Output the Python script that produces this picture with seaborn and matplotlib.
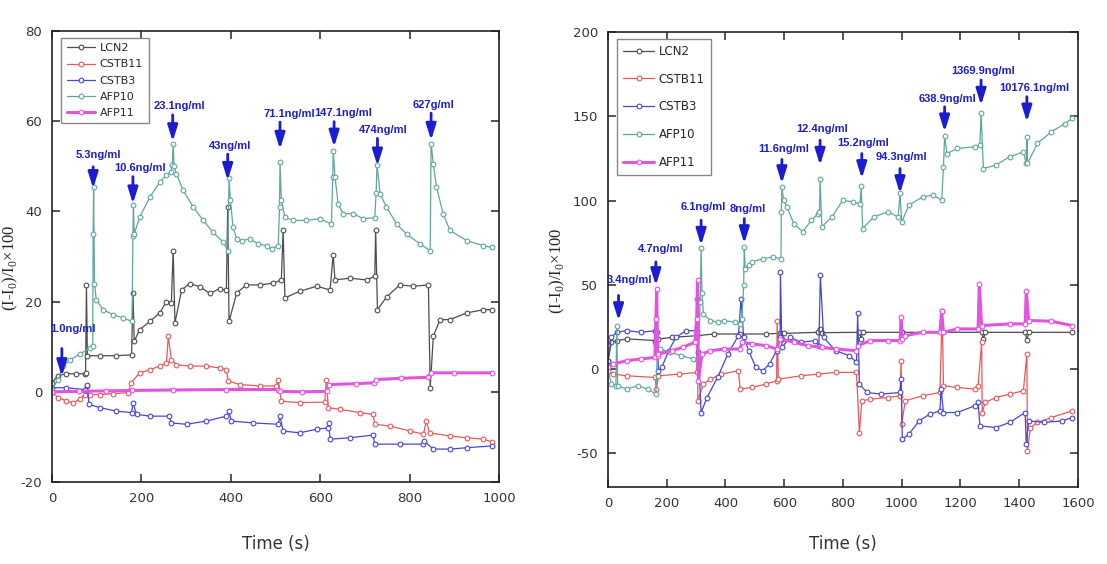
import matplotlib
matplotlib.use("Agg")
import matplotlib.pyplot as plt
import seaborn as sns

# ---------------- data ----------------
NAMES = ["LCN2", "CSTB11", "CSTB3", "AFP10", "AFP11"]
COLORS = ["#4d4d4d", "#e8585a", "#4646d6", "#5fa79d", "#e452e4"]
ARROW_BLUE = "#1c1cd2"

# left panel
L_LCN2_T = [0, 13, 32, 54, 73, 75, 77, 79, 107, 144, 178, 181, 184, 196, 219, 241, 256, 267, 271, 275,
            290, 308, 331, 353, 375, 390, 393, 396, 413, 435, 465, 495, 513, 517, 521, 554, 592, 622, 629,
            633, 666, 704, 722, 724, 728, 749, 778, 808, 842, 846, 853, 868, 890, 928, 965, 984]
L_LCN2_V = [2, 3.6, 4, 4, 4, 4.2, 23.7, 8, 8, 8, 8.2, 22, 11.2, 13.8, 15.6, 17.5, 20, 19.7, 31.3, 15.3,
            22.6, 24, 23.3, 21.8, 22.9, 22.5, 41, 15.6, 21.9, 23.7, 23.7, 24.1, 24.8, 35.9, 20.8, 22.3, 23.4, 22.6, 30.4,
            24.8, 25.2, 24.8, 25.6, 35.8, 18.2, 21.1, 23.7, 23.4, 23.7, 0.9, 12.3, 16, 16, 17.5, 18.2, 18.2]

L_CSTB11_T = [0, 13, 32, 47, 62, 73, 78, 84, 107, 137, 170, 177, 196, 219, 241, 256, 260, 267, 278, 308,
              345, 375, 390, 394, 420, 465, 502, 506, 513, 554, 610, 614, 618, 644, 689, 718, 722, 756, 801,
              831, 837, 845, 890, 928, 965, 984]
L_CSTB11_V = [0, -1.3, -2, -2.4, -1.7, -0.6, 1.3, -0.6, -0.6, -0.4, -0.2, 2, 4.2, 4.9, 5.7, 6.4, 12.3, 7.1, 6, 5.7,
              5.7, 5.3, 4.9, 2.4, 1.6, 1.3, 1.3, 2.7, -2.1, -2.4, -2.3, 2.7, -3.5, -3.9, -4.6, -5, -7.2, -7.6, -8.7,
              -9.4, -6.5, -9.1, -9.8, -10.2, -10.5, -11.1]

L_CSTB3_T = [0, 32, 73, 78, 83, 107, 144, 178, 181, 189, 219, 262, 267, 301, 345, 390, 396, 401, 450, 506,
             510, 517, 554, 592, 618, 619, 622, 666, 718, 722, 778, 831, 832, 853, 890, 928, 984]
L_CSTB3_V = [0.9, 0.9, 0.5, 1.6, -2.8, -3.5, -4.3, -4.6, -2.4, -5, -5.4, -5.4, -6.9, -7.2, -6.5, -5.4, -4.3, -6.5, -6.9, -7.2,
             -5.4, -8.7, -9.1, -8.3, -8, -6.9, -10.5, -10.2, -9.6, -11.6, -11.6, -11.6, -10.9, -12.7, -12.7, -12.4, -12]

L_AFP10_T = [0, 13, 25, 40, 62, 84, 91, 92, 93, 95, 99, 114, 137, 159, 179, 181, 182, 184, 196, 219,
             241, 256, 266, 269, 271, 273, 278, 293, 316, 338, 360, 383, 393, 396, 399, 405, 413, 424, 442, 461,
             480, 491, 506, 509, 510, 513, 521, 540, 569, 599, 625, 628, 629, 633, 640, 651, 674, 696, 722, 725,
             727, 734, 748, 771, 793, 823, 846, 848, 853, 860, 875, 890, 928, 965, 984]
L_AFP10_V = [0.5, 2.7, 5.7, 7.1, 8.3, 9.7, 10.2, 35, 45.5, 24, 20.4, 18.2, 17.1, 16.4, 15.6, 34.6, 41.5, 35, 38.7, 43.2,
             46.5, 48, 48.8, 50.3, 55, 50, 48.4, 44.7, 41, 38, 35.4, 33.2, 31.3, 47.3, 42.5, 36.5, 33.9, 33.5, 33.9, 32.8,
             32.4, 31.7, 32.4, 41, 51, 42.5, 38.7, 38, 38, 38.4, 37.2, 47.7, 53.5, 47.7, 41.7, 39.5, 39.5, 38.4, 38.6, 44,
             50.3, 43.9, 41, 37.2, 35, 32.8, 31.3, 55, 50.6, 45.4, 39.5, 35.8, 33.5, 32.4, 32]

L_AFP11_T = [0, 60, 120, 180, 270, 390, 505, 510, 560, 615, 619, 680, 720, 725, 780, 840, 848, 900, 984]
L_AFP11_V = [0, 0.1, 0.2, 0.3, 0.4, 0.5, 0.5, 0.1, 0, 0.1, 1.6, 1.8, 2, 2.7, 3, 3.2, 4.2, 4.2, 4.2]

L_ARROW_T = [22, 92, 181, 270, 393, 510, 631, 728, 848]
L_ARROW_TAIL = [9.6, 49.9, 47.7, 61.4, 52.7, 59.8, 59.9, 56.2, 61.8]
L_ARROW_TIP = [3.4, 45.1, 41.7, 55.5, 46.9, 53.8, 54.3, 50.1, 55.8]
L_TEXT_T = [47, 103, 196, 286, 398, 531, 651, 741, 854]
L_TEXT_V = [13.9, 52.5, 49.7, 63.4, 54.5, 61.6, 61.8, 58.1, 63.5]
L_TEXT = ["1.0ng/ml", "5.3ng/ml", "10.6ng/ml", "23.1ng/ml", "43ng/ml", "71.1ng/ml",
          "147.1ng/ml", "474ng/ml", "627g/ml"]

# right panel
R_LCN2_T = [0, 12, 30, 65, 160, 165, 172, 219, 302, 361, 450, 538, 586, 592, 598, 716, 722, 728, 856, 862,
            867, 1000, 1142, 1272, 1278, 1284, 1420, 1426, 1432, 1580]
R_LCN2_V = [5, 15.9, 16.9, 17.9, 16.9, 15, 17.9, 18.8, 19.8, 20.8, 20.8, 20.8, 21.2, 18, 21.2, 21.8, 24, 21.6, 21.8, 18,
            21.8, 21.8, 21.8, 21.8, 17.9, 21.8, 21.8, 17, 21.8, 21.8]

R_CSTB11_T = [0, 18, 65, 160, 165, 172, 243, 302, 304, 306, 325, 349, 385, 444, 450, 491, 538, 574, 576, 580,
              657, 716, 775, 846, 856, 864, 893, 953, 994, 998, 1000, 1012, 1071, 1130, 1138, 1142, 1189, 1249, 1260, 1272,
              1274, 1284, 1320, 1367, 1414, 1426, 1428, 1438, 1462, 1509, 1580]
R_CSTB11_V = [-1, -3, -4, -5, -12, -4, -3, -2, 41.7, -18.8, -8.9, -6, -3, -1, -11.9, -10.9, -8.9, -6.9, 28.8, -6,
              -4, -3, -2, -2, -37.7, -18.8, -17.9, -16.9, -15.9, 5, -32.7, -18.8, -15.9, -13.9, 34.7, -9.9, -10.9, -11.9, -9.9, 15.9,
              -25.8, -19.8, -16.9, -14.9, -12.9, 8.9, -48.6, -34.7, -31.7, -28.8, -24.8]

R_CSTB3_T = [0, 12, 30, 65, 112, 160, 166, 172, 183, 207, 231, 266, 302, 308, 317, 337, 373, 408, 444, 453,
             462, 479, 503, 527, 550, 574, 586, 587, 592, 621, 657, 704, 718, 723, 734, 775, 822, 846, 850, 856,
             882, 929, 994, 998, 1002, 1024, 1059, 1095, 1130, 1134, 1142, 1189, 1249, 1260, 1266, 1320, 1367, 1420, 1424, 1432,
             1485, 1544, 1580]
R_CSTB3_V = [5, 18.8, 21.8, 22.8, 21.8, 22.8, 22, -1, 1, 10.9, 18.8, 22.8, 22.8, 10, -25.8, -16.9, -5, 8.9, 19.8, 41.7,
             18.8, 10.9, 1, -1, 3, 10.9, 18.8, 57.5, 12.9, 18.8, 15.9, 16.9, 13.9, 55.6, 18.8, 10.9, 7.9, 4, 33, -8.9,
             -13.9, -14.9, -13.9, -6, -41.7, -38.7, -30.8, -26.8, -24.8, -11.9, -25.8, -25.8, -21.8, -19.8, -33.7, -34.7, -31.7, -25.8, -44.6, -30.8,
             -31.7, -30.8, -28.8]

R_AFP10_T = [0, 12, 27, 30, 33, 65, 101, 136, 163, 168, 177, 210, 250, 290, 306, 314, 317, 320, 325, 349,
             373, 396, 432, 450, 456, 462, 464, 467, 479, 491, 527, 562, 589, 590, 592, 598, 609, 633, 663, 692,
             716, 720, 722, 728, 763, 799, 834, 858, 862, 867, 905, 953, 988, 994, 1000, 1024, 1071, 1107, 1136, 1142,
             1146, 1154, 1189, 1249, 1266, 1270, 1278, 1320, 1367, 1414, 1424, 1426, 1428, 1462, 1509, 1556, 1580]
R_AFP10_V = [-1, -8.9, -9.9, 25.8, -10, -11.9, -9.9, -11.9, -14.9, 10, 12, 10, 8, 6, 5, 40, 72, 45, 32.7, 28.8,
             27.8, 28.8, 27.8, 26.8, 30, 50, 72.5, 59.6, 62, 63.6, 65.5, 66.5, 65.5, 93, 108, 100.2, 96.2, 86.3, 81.4, 88.3,
             92.3, 93, 112.5, 84.4, 90.3, 100.2, 99.2, 98.2, 108.5, 83.4, 90.3, 93.3, 90.3, 104.2, 87.3, 97.2, 102.2, 103.2, 100.2, 120,
             138.2, 127.9, 130.9, 131.9, 132.9, 152.1, 119, 121, 126, 128.9, 122, 137.8, 122, 133.9, 140.8, 145.7, 148.7]

R_AFP11_T = [0, 18, 65, 112, 160, 163, 166, 169, 172, 219, 254, 296, 302, 305, 308, 320, 349, 396, 450, 456,
             491, 538, 574, 586, 633, 680, 728, 775, 846, 852, 893, 953, 994, 998, 1002, 1012, 1071, 1130, 1136, 1142,
             1189, 1260, 1264, 1272, 1367, 1420, 1424, 1432, 1509, 1580]
R_AFP11_V = [1, 3, 5, 6, 6.9, 30, 47.6, 8, 8.9, 10.9, 12.9, 15.9, 30, 52.6, -7, 8.9, 10.9, 11.9, 11.9, 15.9,
             14.9, 13.9, 11.9, 17.9, 15.9, 13.9, 12.9, 11.9, 10.9, 13.9, 16.9, 16.9, 16.9, 30.8, 17.9, 19.8, 21.8, 21.8, 34.7, 21.8,
             23.8, 23.8, 50.6, 25.8, 26.8, 26.8, 46.6, 28.8, 28.4, 25.8]

R_ARROW_T = [36, 163, 317, 464, 592, 722, 864, 994, 1146, 1270, 1426]
R_ARROW_TAIL = [43.7, 63.6, 88.3, 89.3, 124.4, 135.8, 127.9, 119, 155.6, 171.5, 161.6]
R_ARROW_TIP = [28.8, 49.6, 73.5, 74.5, 110.1, 121, 113.1, 104.2, 140.8, 156.6, 146.7]
R_TEXT_T = [75, 178, 325, 477, 598, 730, 870, 1000, 1157, 1278, 1450]
R_TEXT_V = [53, 71.5, 96.2, 95.2, 130.3, 142.2, 134.3, 126, 160, 177, 166.5]
R_TEXT = ["3.4ng/ml", "4.7ng/ml", "6.1ng/ml", "8ng/ml", "11.6ng/ml", "12.4ng/ml",
          "15.2ng/ml", "94.3ng/ml", "638.9ng/ml", "1369.9ng/ml", "10176.1ng/ml"]

# ---------------- plotting ----------------
sns.set_style("ticks")
plt.rcParams["font.family"] = ["DejaVu Sans"]
plt.rcParams["axes.unicode_minus"] = False

fig = plt.figure(figsize=(11.07, 5.64), dpi=100)
ax_l = fig.add_axes([0.047, 0.1454, 0.4038, 0.7996])
ax_r = fig.add_axes([0.5492, 0.1365, 0.4246, 0.8067])


def draw_series(ax, series):
    for (name, t, v), c in zip(series, COLORS):
        lw = 2.2 if name == "AFP11" else 0.9
        sns.lineplot(x=t, y=v, ax=ax, color=c, marker="o", markersize=3.4,
                     mec=c, mfc="white", mew=0.8, linewidth=lw,
                     label=name, sort=False, estimator=None)


def draw_arrows(ax, at, tail, tip, tt, tv, labels):
    for a, s, e in zip(at, tail, tip):
        ax.annotate("", xy=(a, e), xytext=(a, s),
                    arrowprops=dict(arrowstyle="-|>,head_length=0.8,head_width=0.25",
                                    color=ARROW_BLUE, lw=2.0, shrinkA=0, shrinkB=0,
                                    mutation_scale=12))
    for x, y, s in zip(tt, tv, labels):
        ax.text(x, y, s, ha="center", va="center", color=ARROW_BLUE,
                fontsize=8, fontweight="bold",
                family=["Liberation Sans Narrow", "Liberation Sans"])


def style_axes(ax, xmax, ymin, ymax, ystep, leg_fs, leg_sp, ylab_x, xlab_y):
    ax.set_xlim(0, xmax)
    ax.set_ylim(ymin, ymax)
    ax.set_xticks(range(0, xmax + 1, 200))
    ax.set_yticks(range(int(ymin // ystep * ystep) + (ystep if ymin % ystep else 0), ymax + 1, ystep))
    ax.tick_params(direction="in", top=True, right=True, length=6, width=1.1,
                   labelsize=9.5, labelcolor="#333333", pad=7)
    for sp in ax.spines.values():
        sp.set_linewidth(1.2)
        sp.set_color("#222222")
    ax.set_xlabel("Time (s)", fontsize=12, color="#333333")
    ax.xaxis.set_label_coords(0.5, xlab_y)
    ax.set_ylabel(r"(I-I$_\mathregular{0}$)/I$_\mathregular{0}$×100", fontsize=12,
                  family="Liberation Serif")
    ax.yaxis.set_label_coords(ylab_x, 0.475)
    leg = ax.legend(loc="upper left", bbox_to_anchor=(0.02, 0.985), borderaxespad=0,
                    fontsize=leg_fs, labelspacing=leg_sp, handlelength=2.6,
                    fancybox=False, framealpha=1, edgecolor="#888888",
                    borderpad=0.5, handletextpad=0.4)
    leg.get_frame().set_linewidth(1.0)


left_series = [("LCN2", L_LCN2_T, L_LCN2_V), ("CSTB11", L_CSTB11_T, L_CSTB11_V),
               ("CSTB3", L_CSTB3_T, L_CSTB3_V), ("AFP10", L_AFP10_T, L_AFP10_V),
               ("AFP11", L_AFP11_T, L_AFP11_V)]
right_series = [("LCN2", R_LCN2_T, R_LCN2_V), ("CSTB11", R_CSTB11_T, R_CSTB11_V),
                ("CSTB3", R_CSTB3_T, R_CSTB3_V), ("AFP10", R_AFP10_T, R_AFP10_V),
                ("AFP11", R_AFP11_T, R_AFP11_V)]

draw_series(ax_l, left_series)
draw_arrows(ax_l, L_ARROW_T, L_ARROW_TAIL, L_ARROW_TIP, L_TEXT_T, L_TEXT_V, L_TEXT)
style_axes(ax_l, 1000, -20, 80, 20, 8, 0.55, -0.072, -0.118)

draw_series(ax_r, right_series)
draw_arrows(ax_r, R_ARROW_T, R_ARROW_TAIL, R_ARROW_TIP, R_TEXT_T, R_TEXT_V, R_TEXT)
style_axes(ax_r, 1600, -70, 200, 50, 8.5, 1.25, -0.088, -0.105)

fig.savefig("out.png", dpi=100)
